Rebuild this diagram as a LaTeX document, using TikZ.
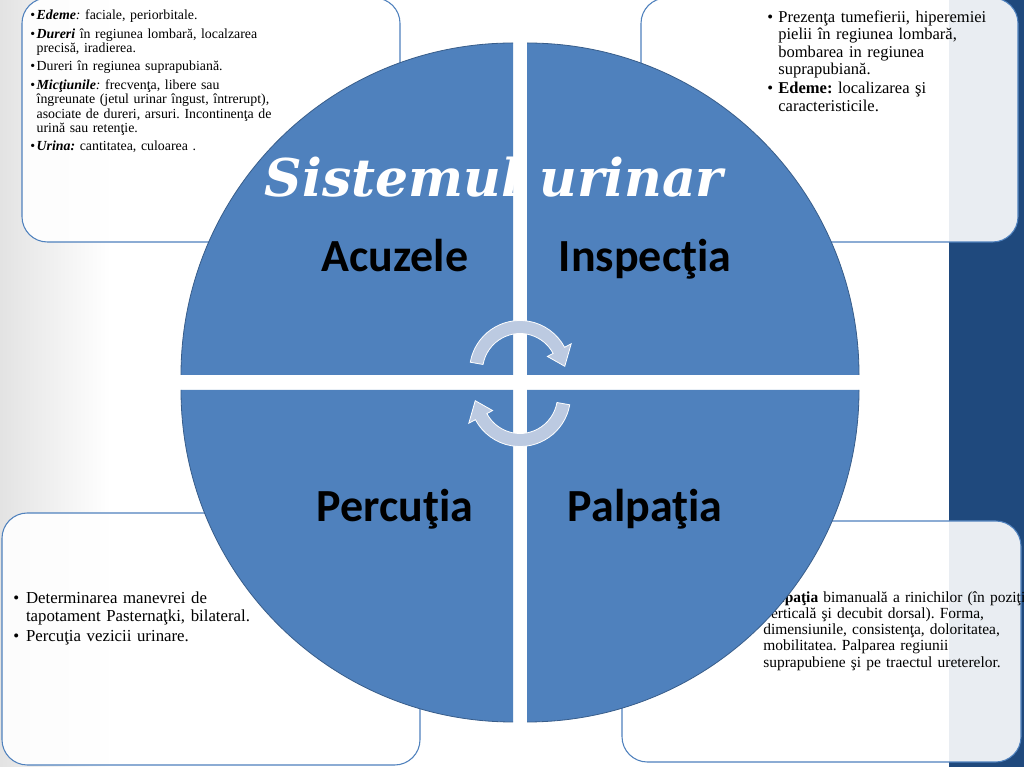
\documentclass[tikz,border=0pt]{standalone}
\usepackage{fontspec}
\setmainfont{Liberation Serif}
\newfontfamily\labelfont{Carlito}
\newfontfamily\titlefont{DejaVu Serif}
\usetikzlibrary{positioning}

\definecolor{quadblue}{RGB}{79,129,189}
\definecolor{quadedge}{RGB}{56,93,138}
\definecolor{banddark}{RGB}{31,73,125}
\definecolor{arrowfill}{RGB}{188,202,225}

% bullet with hanging indent
\newcommand{\bitem}[1]{\par\hangindent=#1\hangafter=1\noindent\makebox[#1][l]{\textbullet}}

\tikzset{
  notebox/.style={draw=quadblue, line width=0.8pt, fill=white, fill opacity=0.9, rounded corners=19pt},
  quarter/.style={fill=quadblue},
  rim/.style={draw=quadedge, line width=0.6pt},
  quadlabel/.style={font=\labelfont\bfseries\fontsize{34.5}{40}\selectfont, anchor=base},
  notetext/.style={anchor=north west, inner sep=0pt, text width=#1},
  cyclearrow/.style={fill=arrowfill, draw=white, line width=0.6pt}
}

\begin{document}
\begin{tikzpicture}[x=0.75pt,y=0.75pt]
  \useasboundingbox (0,0) rectangle (1024,767);
  % slide background
  \fill[white] (0,0) rectangle (1024,767);
  \shade[left color=gray!22, right color=white] (0,0) rectangle (110,767);
  \fill[banddark] (949,0) rectangle (1024,767);

  % note boxes
  \draw[notebox] (22,525) rectangle (400,769);
  \draw[notebox] (641,525) rectangle (1018,769);
  \draw[notebox] (2,2) rectangle (420,254);
  \draw[notebox] (622,5) rectangle (1021,246);

  \node[notetext=300pt, font=\fontsize{10.4}{10.8}\selectfont] (acuzeletxt) at (30,766) {%
    \raggedright\frenchspacing\setlength{\parskip}{3pt}%
    \bitem{4.8pt}\textbf{\textit{Edeme}}\textit{:} faciale, periorbitale.
    \bitem{4.8pt}\textbf{\textit{Dureri}} în regiunea lombară, localzarea\newline precisă, iradierea.
    \bitem{4.8pt}Dureri în regiunea suprapubiană.
    \bitem{4.8pt}\textbf{\textit{Micţiunile}}\textit{:} frecvenţa, libere sau\newline îngreunate (jetul urinar îngust, întrerupt),\newline asociate de dureri, arsuri. Incontinenţa de\newline urină sau retenţie.
    \bitem{4.8pt}\textbf{\textit{Urina:}} cantitatea, culoarea .\par};

  \node[notetext=260pt, font=\fontsize{12.4}{13}\selectfont] (inspectiatxt) at (767,764) {%
    \raggedright\frenchspacing\setlength{\parskip}{1.5pt}%
    \bitem{8.3pt}Prezenţa tumefierii, hiperemiei\newline pielii în regiunea lombară,\newline bombarea in regiunea\newline suprapubiană.
    \bitem{8.3pt}\textbf{Edeme:} localizarea şi\newline caracteristicile.\par};

  \node[notetext=300pt, font=\fontsize{12.6}{13.5}\selectfont] (percutiatxt) at (13,184) {%
    \raggedright\frenchspacing\setlength{\parskip}{1.5pt}%
    \bitem{9.6pt}Determinarea manevrei de\newline tapotament Pasternaţki, bilateral.
    \bitem{9.6pt}Percuţia vezicii urinare.\par};

  \node[notetext=320pt, font=\fontsize{11.6}{12.2}\selectfont] (palpatiatxt) at (763,176) {%
    \raggedright\frenchspacing
    \textbf{Palpaţia} bimanuală a rinichilor (în poziţia\newline verticală şi decubit dorsal). Forma,\newline dimensiunile, consistenţa, doloritatea,\newline mobilitatea. Palparea regiunii\newline suprapubiene şi pe traectul ureterelor.\par};

  % cycle matrix
  \foreach \cx/\cy/\a in {513/392/90, 527/392/0, 513/377/180, 527/377/270}{
    \fill[quarter] (\cx,\cy) -- ++(\a:332) arc (\a:\a+90:332) -- cycle;
    \draw[rim] ([shift={(\cx,\cy)}]\a:332) arc (\a:\a+90:332);
  }

  % circular arrows
  \foreach \cy/\r in {396/0, 371/180}{
    \begin{scope}[shift={(520,\cy)}, rotate=\r]
      \draw[cyclearrow] (170:37.5) -- (170:50.5) arc (170:28:50.5) -- (28:58)
        -- (6:45) -- (28:31) -- (28:37.5) arc (28:170:37.5) -- cycle;
    \end{scope}
  }

  \node[font=\titlefont\bfseries\itshape\fontsize{39}{46}\selectfont, text=white, anchor=base] (title) at (494,570) {Sistemul urinar};

  \node[quadlabel] (acuzele) at (395,495) {Acuzele};
  \node[quadlabel] (inspectia) at (645,495) {Inspecţia};
  \node[quadlabel] (percutia) at (395,245) {Percuţia};
  \node[quadlabel] (palpatia) at (645,245) {Palpaţia};
\end{tikzpicture}
\end{document}
